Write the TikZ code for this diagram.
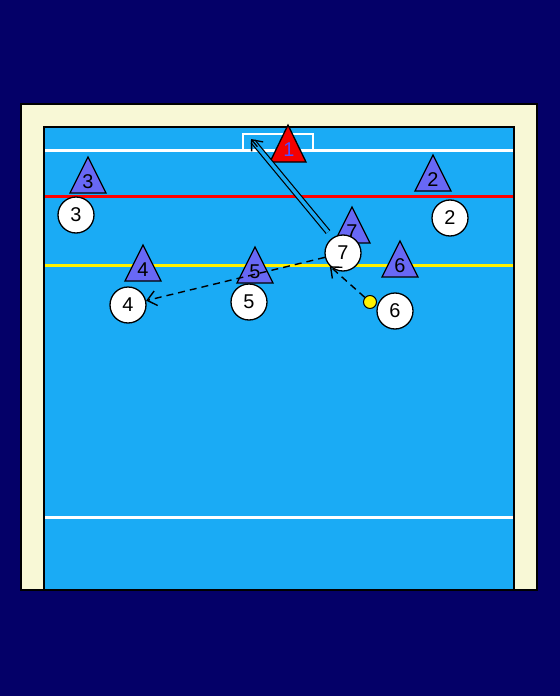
\documentclass[tikz,border=0pt]{standalone}
\usepackage{fontspec}
\setmainfont{Liberation Sans}
\usetikzlibrary{arrows.meta,calc}
\definecolor{navy}{RGB}{4,0,104}
\definecolor{cream}{RGB}{248,248,214}
\definecolor{pool}{RGB}{26,171,245}
\definecolor{tri}{RGB}{104,104,245}
\definecolor{trired}{RGB}{245,0,0}
\definecolor{lbl}{RGB}{80,80,255}
\tikzset{
  player/.style={circle,draw=black,fill=white,line width=1.3bp,minimum size=36bp,inner sep=0pt,font=\fontsize{20}{22}\selectfont},
  trilabel/.style={inner sep=0pt,font=\fontsize{20}{22}\selectfont},
  tripath/.style={draw=black,line width=1.3bp,fill=tri,line join=miter},
  pass/.style={draw=black,line width=1.4bp,dash pattern=on 7bp off 5bp,-{Straight Barb[length=9bp,width=15bp,line width=1.4bp]}},
  fieldline/.style={line width=3bp},
}
\newcommand{\triangleat}[4]{% name, apex x, apex y, label
  \path[tripath] (#2,#3) -- (#2+18,#3+36) -- (#2-18,#3+36) -- cycle;
  \node[trilabel] (#1) at (#2,#3+25) {#4};
}
\begin{document}
\begin{tikzpicture}[x=1bp,y=-1bp]
\useasboundingbox (0,0) rectangle (560,696);
\fill[navy] (-1,-1) rectangle (561,697);
\draw[fill=cream,draw=black,line width=1.5bp] (21,104) rectangle (537,590);
\draw[fill=pool,draw=black,line width=1.5bp] (44,127) rectangle (514,590);
% lines
\draw[white,fieldline] (45,150) -- (513,150);
\draw[white,line width=2.5bp] (243,150) -- (243,134) -- (313,134) -- (313,150);
\draw[red,fieldline] (45,196) -- (513,196);
\draw[yellow,fieldline] (45,265) -- (513,265);
\draw[white,fieldline] (45,517) -- (513,517);
% goalkeeper
\path[tripath,fill=trired] (288,125) -- (306,162) -- (270,162) -- cycle;
\node[trilabel,text=lbl] (t1) at (289,150) {1};
% defenders
\triangleat{t3}{88}{157}{3}
\triangleat{t2}{433}{155}{2}
\triangleat{t7}{352}{207}{7}
\triangleat{t6}{400}{241}{6}
\triangleat{t4}{143}{245}{4}
\triangleat{t5}{255}{247}{5}
% attackers
\node[player] (c3) at (76,215) {3};
\node[player] (c2) at (450,218) {2};
\node[player] (c7) at (343,253) {7};
\node[player] (c6) at (395,311) {6};
\node[player] (c4) at (128,305) {4};
\node[player] (c5) at (249,302) {5};
\node[circle,draw=black,fill=yellow,line width=1bp,minimum size=13bp,inner sep=0pt] (ball) at (370,302) {};
% shot
\coordinate (goalpt) at (251,139);
\coordinate (shotstart) at (328,232);
\draw[black,line width=1.2bp,double=pool,double distance=3.5bp,shorten >=3bp] (shotstart) -- (goalpt);
\draw[black,line width=1.3bp,{Straight Barb[length=9bp,width=15bp,line width=1.3bp]}-] (goalpt) -- ($(goalpt)!10bp!(shotstart)$);
% passes
\draw[pass] (c7) -- (c4);
\draw[pass] (ball) -- (c7.225);
\end{tikzpicture}
\end{document}
